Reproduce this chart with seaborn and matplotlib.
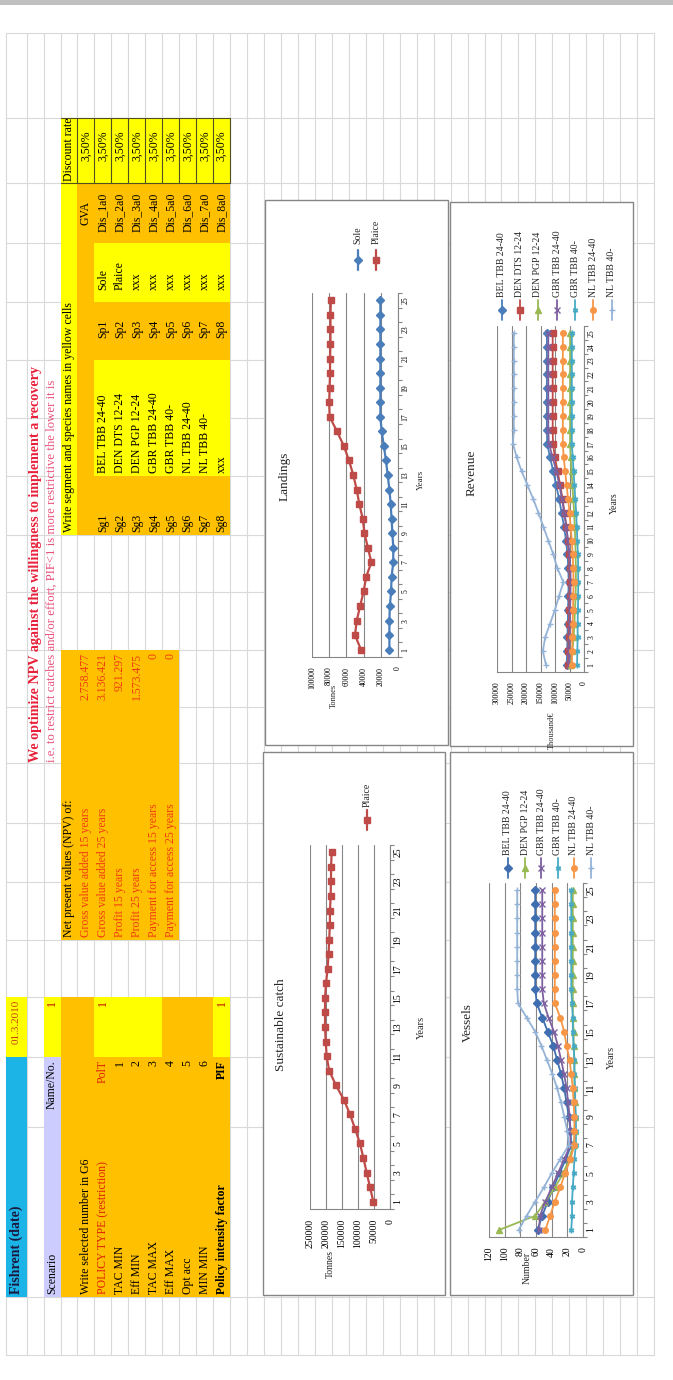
import numpy as np
import matplotlib
matplotlib.use("Agg")
import matplotlib.pyplot as plt
from matplotlib.patches import Rectangle
from matplotlib.lines import Line2D
import seaborn as sns

sns.set_theme(style="white")
plt.rcParams["font.family"] = ["Liberation Serif", "DejaVu Serif"]

# ---------------------------------------------------------------- data
YEARS = list(range(1, 26))

landings_sole = [10000, 10000, 10000, 9500, 8000, 7500, 5500, 5500, 6500, 7500,
                 8500, 10000, 12000, 14000, 16500, 19000, 20500, 20500, 20500, 20500,
                 20500, 20500, 20500, 20500, 20500]
landings_plaice = [43000, 50000, 48000, 44000, 40000, 37000, 31000, 35000, 39000, 41000,
                   45000, 48000, 52000, 57000, 63000, 71000, 79500, 80000, 79500, 79000,
                   79000, 78500, 78500, 78500, 78000]

sustainable_plaice = [52000, 62500, 73000, 83000, 94000, 109000, 125000, 144000, 169000, 190000,
                      198000, 201000, 203000, 203000, 203000, 200000, 195000, 192000, 190000, 188000,
                      187500, 185500, 184500, 184000, 182500]

vessels_bel_tbb_24_40 = [58, 52, 45, 38, 30, 22, 15, 16, 18, 21, 24, 28, 33, 38, 45, 52, 59,
                         61, 61, 61, 61, 61, 61, 61, 61]
vessels_den_pgp_12_24 = [107, 61, 48, 36, 25, 18, 12, 10, 10, 10, 11, 11, 11, 12, 12, 13, 13,
                         13, 13, 13, 13, 13, 13, 13, 13]
vessels_gbr_tbb_24_40 = [56, 55, 48, 40, 32, 24, 16, 16, 17, 19, 21, 24, 28, 32, 37, 44, 50,
                         52, 52, 52, 52, 52, 52, 52, 52]
vessels_gbr_tbb_40 = [15, 14, 14, 13, 12, 11, 9, 9, 9, 10, 10, 11, 11, 12, 13, 13, 14,
                      15, 15, 15, 15, 15, 15, 15, 15]
vessels_nl_tbb_24_40 = [48, 42, 36, 29, 23, 16, 11, 11, 11, 12, 13, 15, 17, 21, 24, 29, 36,
                        36, 36, 36, 36, 36, 36, 36, 36]
vessels_nl_tbb_40 = [82, 72, 61, 50, 40, 29, 18, 20, 24, 28, 33, 39, 46, 53, 61, 72, 83,
                     84, 84, 84, 84, 84, 84, 84, 84]

revenue_bel_tbb_24_40 = [60000, 58000, 57000, 56000, 55000, 54000, 53000, 54000, 57000, 62000,
                         69000, 77000, 86000, 96000, 106000, 117000, 127000, 128000, 128000, 128000,
                         128000, 128000, 128000, 128000, 128000]
revenue_den_dts_12_24 = [55000, 54000, 53000, 52000, 51000, 50000, 49000, 50000, 52000, 56000,
                         61000, 67000, 74000, 82000, 91000, 100000, 107000, 108000, 108000, 108000,
                         108000, 108000, 108000, 108000, 108000]
revenue_den_pgp_12_24 = [45000, 40000, 36000, 33000, 31000, 29000, 28000, 28000, 29000, 30000,
                         32000, 34000, 37000, 40000, 43000, 46000, 48000, 48000, 48000, 48000,
                         48000, 48000, 48000, 48000, 48000]
revenue_gbr_tbb_24_40 = [52000, 51000, 50000, 49000, 48000, 47000, 46000, 47000, 50000, 55000,
                         61000, 68000, 76000, 85000, 95000, 108000, 121000, 123000, 123000, 123000,
                         123000, 123000, 123000, 123000, 123000]
revenue_gbr_tbb_40 = [24000, 23000, 22000, 22000, 21000, 20000, 20000, 20000, 21000, 23000,
                      25000, 27000, 30000, 33000, 36000, 39000, 42000, 42000, 42000, 42000,
                      42000, 42000, 42000, 42000, 42000]
revenue_nl_tbb_24_40 = [42000, 41000, 40000, 39000, 38000, 37000, 36000, 37000, 39000, 42000,
                        46000, 50000, 55000, 60000, 65000, 70000, 73000, 73000, 73000, 73000,
                        73000, 73000, 73000, 73000, 73000]
revenue_nl_tbb_40 = [131000, 142000, 134000, 117000, 100000, 86000, 71000, 92000, 106000, 123000,
                     140000, 157000, 175000, 195000, 215000, 232000, 245000, 242000, 242000, 242000,
                     242000, 242000, 242000, 242000, 242000]

segments = ["BEL TBB 24-40", "DEN DTS 12-24", "DEN PGP 12-24", "GBR TBB 24-40",
            "GBR TBB 40-", "NL TBB 24-40", "NL TBB 40-", "xxx"]
segment_ids = ["Sg1", "Sg2", "Sg3", "Sg4", "Sg5", "Sg6", "Sg7", "Sg8"]
species_ids = ["Sp1", "Sp2", "Sp3", "Sp4", "Sp5", "Sp6", "Sp7", "Sp8"]
species = ["Sole", "Plaice", "xxx", "xxx", "xxx", "xxx", "xxx", "xxx"]
gva_names = ["Dis_1a0", "Dis_2a0", "Dis_3a0", "Dis_4a0", "Dis_5a0", "Dis_6a0", "Dis_7a0", "Dis_8a0"]
discount_rates = ["3,50%", "3,50%", "3,50%", "3,50%", "3,50%", "3,50%", "3,50%", "3,50%", "3,50%"]

policy_labels = ["TAC MIN", "Eff MIN", "TAC MAX", "Eff MAX", "Opt acc", "MIN MIN"]
policy_codes = ["1", "2", "3", "4", "5", "6"]

npv_labels = ["Gross value added 15 years", "Gross value added 25 years", "Profit 15 years",
              "Profit 25 years", "Payment for access 15 years", "Payment for access 25 years"]
npv_values = ["2.758.477", "3.136.421", "921.297", "1.573.475", "0", "0"]

# ---------------------------------------------------------------- styling
C_BLUE = "#4a7ebb"
C_RED = "#be4b48"
C_GREEN = "#98b954"
C_PURPLE = "#7d60a0"
C_TEAL = "#46aac5"
C_ORANGE = "#f79646"
C_LIGHT = "#95b3d7"
ASTERISK = (6, 2, 0)

ORANGE = "#ffc000"
YELLOW = "#ffff00"
CYAN = "#1cb4e6"
LAVENDER = "#ccccff"
GRID = "#d9d9d9"
AXGRAY = "#868686"

W, H = 673, 1380
fig = plt.figure(figsize=(W / 100, H / 100), dpi=100)
fig.patch.set_facecolor("white")
bg = fig.add_axes([0, 0, 1, 1])
bg.set_xlim(0, W)
bg.set_ylim(H, 0)
bg.axis("off")

# sheet rows run across the page, sheet columns run down it
ROW_EDGES = [6.0] + [26.6 + 16.96 * k for k in range(38)]
COL_EDGES = [33, 118, 183, 243, 302, 360, 418, 476, 535, 592, 650, 707, 763, 823,
             882, 940, 997, 1057, 1127, 1297, 1355]
SHEET_FS = 8.5


def rx(r):
    return (ROW_EDGES[r - 1] + ROW_EDGES[r]) / 2


def fill(r0, r1, y0, y1, color):
    x0, x1 = ROW_EDGES[r0 - 1], ROW_EDGES[r1]
    bg.add_patch(Rectangle((x0, y0), x1 - x0, y1 - y0, facecolor=color,
                           edgecolor="none", zorder=1))


def cell(r, y, s, align="left", color="black", size=SHEET_FS, weight="normal"):
    va = {"left": "bottom", "right": "top", "center": "center"}[align]
    bg.text(rx(r), y, s, rotation=90, ha="center", va=va, color=color,
            fontsize=size, fontweight=weight, zorder=3)


# top bar and sheet grid
bg.add_patch(Rectangle((0, 0), W, 4.5, facecolor="#c0c0c0", edgecolor="none", zorder=1))
for x in ROW_EDGES:
    bg.plot([x, x], [COL_EDGES[0], COL_EDGES[-1]], color=GRID, lw=0.8, zorder=0.5)
for y in COL_EDGES:
    bg.plot([ROW_EDGES[0], ROW_EDGES[-1]], [y, y], color=GRID, lw=0.8, zorder=0.5)

# scenario block
fill(1, 1, 1057, 1297, CYAN)
fill(1, 1, 997, 1057, YELLOW)
fill(3, 3, 1057, 1297, LAVENDER)
fill(3, 3, 997, 1057, YELLOW)
fill(4, 13, 997, 1297, ORANGE)
fill(6, 9, 997, 1057, YELLOW)
fill(13, 13, 997, 1057, YELLOW)

cell(1, 1294, "Fishrent (date)", size=10, weight="bold", color="#1a1a40")
cell(1, 1000, "01.3.2010", align="right", color="#c8401a", size=8)
cell(3, 1294, "Scenario")
cell(3, 1060, "Name/No.", align="right")
cell(3, 1000, "1", align="right", color="#c00000")
cell(5, 1294, "Write selected number in G6")
cell(6, 1294, "POLICY TYPE (restriction)", color="#e02000")
cell(6, 1060, "PolT", align="right", color="#e02000")
cell(6, 1000, "1", align="right", color="#c00000")
for i, (lab, code) in enumerate(zip(policy_labels, policy_codes)):
    cell(7 + i, 1294, lab)
    cell(7 + i, 1060, code, align="right")
cell(13, 1294, "Policy intensity factor", weight="bold")
cell(13, 1060, "PIF", align="right", weight="bold")
cell(13, 1000, "1", align="right", color="#c00000")

# NPV block
fill(4, 10, 650, 940, ORANGE)
cell(4, 937, "Net present values (NPV) of:")
for i, (lab, val) in enumerate(zip(npv_labels, npv_values)):
    cell(5 + i, 937, lab, color="#f03c10")
    cell(5 + i, 653, val, align="right", color="#f03c10")

# headline
cell(2, 762, "We optimize NPV against the willingness to implement a recovery",
     color="#e8203a", weight="bold", size=10.2)
cell(3, 762, "i.e. to restrict catches and/or effort, PIF<1 is more restrictive the lower it is",
     color="#e8507a", size=9.2)

# segment / species table
fill(4, 4, 118, 535, YELLOW)
fill(5, 13, 118, 183, YELLOW)
fill(5, 13, 183, 243, ORANGE)
fill(5, 5, 243, 302, ORANGE)
fill(6, 13, 243, 302, YELLOW)
fill(5, 13, 302, 360, ORANGE)
fill(5, 5, 360, 476, ORANGE)
fill(6, 13, 360, 476, YELLOW)
fill(5, 13, 476, 535, ORANGE)
for r in range(4, 14):
    bg.plot([ROW_EDGES[r], ROW_EDGES[r]], [118, 183], color="#505020", lw=0.8, zorder=2)
for y in (118, 183):
    bg.plot([ROW_EDGES[3], ROW_EDGES[13]], [y, y], color="#505020", lw=0.8, zorder=2)

cell(4, 532, "Write segment and species names in yellow cells")
cell(4, 181, "Discount rate")
cell(5, 213, "GVA", align="center")
for i, rate in enumerate(discount_rates):
    cell(5 + i, 146, rate, align="center")
for i in range(8):
    r = 6 + i
    cell(r, 532, segment_ids[i])
    cell(r, 473, segments[i])
    cell(r, 338, species_ids[i])
    cell(r, 290, species[i])
    cell(r, 212, gva_names[i], align="center")

# ---------------------------------------------------------------- chart frames
for (x0, x1, y0, y1) in [(265, 448, 200, 745), (450, 633, 202, 746),
                         (263, 445, 752, 1295), (450, 633, 752, 1295)]:
    bg.add_patch(Rectangle((x0, y0), x1 - x0, y1 - y0, facecolor="white",
                           edgecolor=AXGRAY, lw=1.0, zorder=1.5))


def make_chart(left, right, top, bottom, vmax, vstep, label_years, tick_fs):
    ax = fig.add_axes([left / W, 1 - bottom / H, (right - left) / W, (bottom - top) / H])
    ax.set_facecolor("none")
    ax.set_xlim(vmax, 0)
    ax.set_ylim(0.5, 25.5)
    vticks = list(range(0, vmax + 1, vstep))
    ax.set_xticks(vticks)
    ax.set_xticklabels([str(v) for v in vticks], rotation=90, ha="center", va="top",
                       fontsize=tick_fs)
    ax.yaxis.tick_right()
    ax.set_yticks(label_years)
    ax.set_yticklabels([str(y) for y in label_years], rotation=90, ha="left", va="center",
                       fontsize=tick_fs)
    ax.set_yticks(np.arange(0.5, 26, 1.0), minor=True)
    ax.tick_params(axis="x", which="major", length=3, width=0.8, color=AXGRAY,
                   direction="out", pad=4, labelcolor="black")
    ax.tick_params(axis="y", which="major", length=0, pad=2.5, labelcolor="black")
    ax.tick_params(axis="y", which="minor", length=3, width=0.8, color=AXGRAY,
                   direction="out", right=True, left=False)
    for side in ("top", "left"):
        ax.spines[side].set_visible(False)
    for side in ("right", "bottom"):
        ax.spines[side].set_visible(True)
        ax.spines[side].set_color(AXGRAY)
        ax.spines[side].set_linewidth(0.8)
    ax.grid(axis="x", color=AXGRAY, lw=0.8)
    ax.grid(axis="y", visible=False)
    ax.set_xlabel("")
    ax.set_ylabel("")
    return ax


def series(ax, values, color, marker, ms, lw):
    sns.lineplot(x=values, y=YEARS, ax=ax, estimator=None, sort=False, color=color,
                 marker=marker, markersize=ms, linewidth=lw, markeredgecolor=color,
                 markerfacecolor=color, markeredgewidth=1.0, legend=False)


def legend(entries, xs, y_mark, y_text, fs, ms, lw):
    for (name, color, marker), x in zip(entries, xs):
        bg.add_line(Line2D([x, x], [y_mark - 10, y_mark + 10], color=color, lw=lw, zorder=2))
        bg.add_line(Line2D([x], [y_mark], color=color, marker=marker, ms=ms,
                           mec=color, mfc=color, mew=1.0, zorder=2))
        bg.text(x, y_text, name, rotation=90, ha="center", va="bottom", fontsize=fs, zorder=3)


def label(x, y, s, fs, **kw):
    bg.text(x, y, s, rotation=90, ha="center", va="center", fontsize=fs, zorder=3, **kw)


odd_years = list(range(1, 26, 2))

# Landings
ax1 = make_chart(312, 398, 293, 657, 100000, 20000, odd_years, 5.5)
series(ax1, landings_sole, C_BLUE, "D", 4.5, 1.6)
series(ax1, landings_plaice, C_RED, "s", 5, 1.6)
label(285, 476, "Landings", 9.5)
label(421, 480, "Years", 6.5)
label(334, 696, "Tonnes", 6)
legend([("Sole", C_BLUE, "D"), ("Plaice", C_RED, "s")], [358, 376], 260, 244, 7, 4.5, 1.6)

# Sustainable catch
ax2 = make_chart(310, 390, 845, 1209, 250000, 50000, odd_years, 7)
series(ax2, sustainable_plaice, C_RED, "s", 5, 1.6)
label(281, 1025, "Sustainable catch", 9.5)
label(421, 1027, "Years", 7.5)
label(330, 1264, "Tonnes", 7)
legend([("Plaice", C_RED, "s")], [367], 820, 807, 7, 4.5, 1.6)

# Revenue
rev_entries = [("BEL TBB 24-40", C_BLUE, "D", revenue_bel_tbb_24_40),
               ("DEN DTS 12-24", C_RED, "s", revenue_den_dts_12_24),
               ("DEN PGP 12-24", C_GREEN, "^", revenue_den_pgp_12_24),
               ("GBR TBB 24-40", C_PURPLE, "x", revenue_gbr_tbb_24_40),
               ("GBR TBB 40-", C_TEAL, ASTERISK, revenue_gbr_tbb_40),
               ("NL TBB 24-40", C_ORANGE, "o", revenue_nl_tbb_24_40),
               ("NL TBB 40-", C_LIGHT, "+", revenue_nl_tbb_40)]
ax3 = make_chart(497, 584, 326, 672, 300000, 50000, YEARS, 5.5)
for name, color, marker, vals in rev_entries:
    series(ax3, vals, color, marker, 4, 1.3)
label(472, 473, "Revenue", 9.5)
label(614, 503, "Years", 7)
label(552, 730, "Thousand€", 6)
legend([e[:3] for e in rev_entries], [502, 520, 538, 557, 575, 593, 612], 310, 297, 7, 4, 1.3)

# Vessels
ves_entries = [("BEL TBB 24-40", "#3f6fb0", "D", vessels_bel_tbb_24_40),
               ("DEN PGP 12-24", C_GREEN, "^", vessels_den_pgp_12_24),
               ("GBR TBB 24-40", C_PURPLE, "x", vessels_gbr_tbb_24_40),
               ("GBR TBB 40-", C_TEAL, ASTERISK, vessels_gbr_tbb_40),
               ("NL TBB 24-40", C_ORANGE, "o", vessels_nl_tbb_24_40),
               ("NL TBB 40-", C_LIGHT, "+", vessels_nl_tbb_40)]
ax4 = make_chart(489, 583, 883, 1237, 120, 20, odd_years, 7)
for name, color, marker, vals in ves_entries:
    series(ax4, vals, color, marker, 4, 1.3)
label(468, 1023, "Vessels", 9.5)
label(611, 1057, "Years", 7.5)
label(527, 1268, "Number", 7)
legend([e[:3] for e in ves_entries], [508, 525, 541, 558, 574, 591], 868, 855, 7, 4, 1.3)

fig.savefig("out.png", dpi=100, facecolor="white")
